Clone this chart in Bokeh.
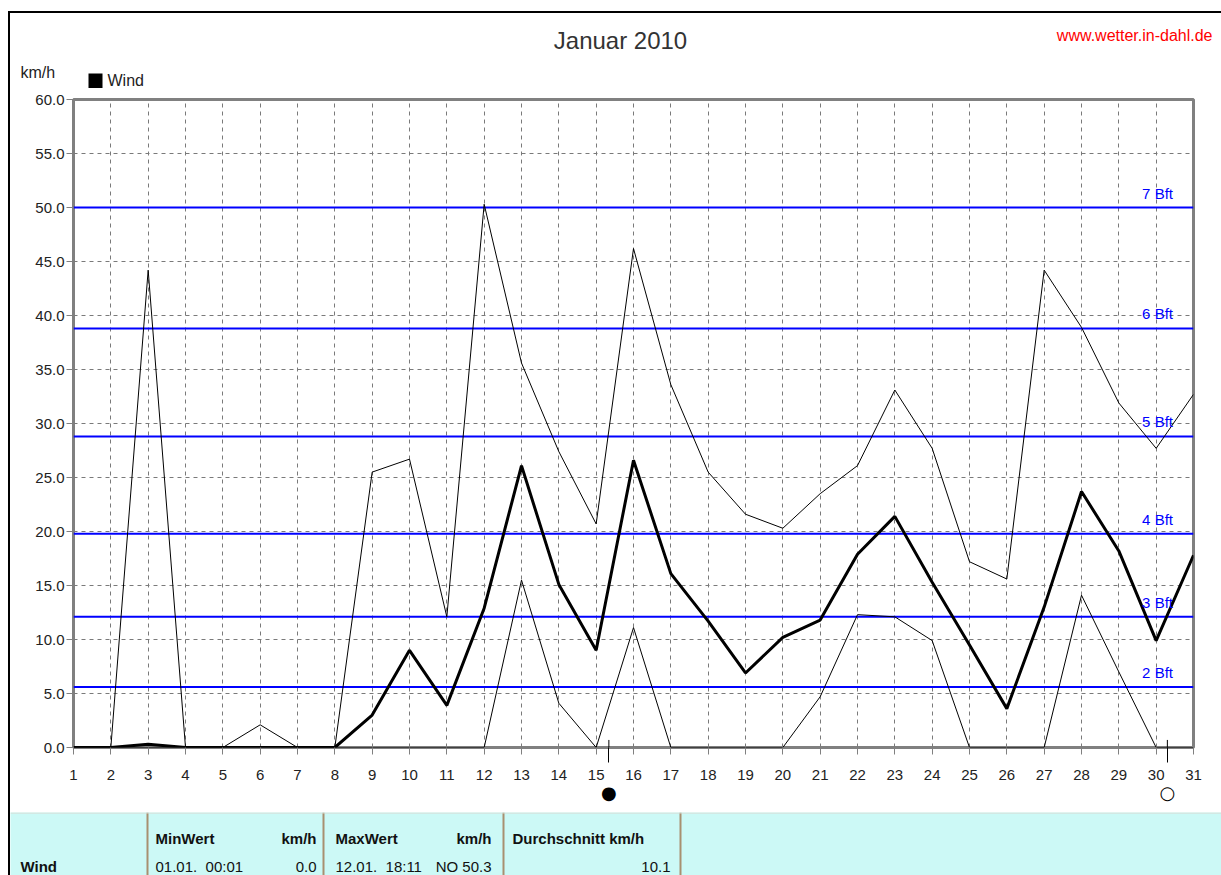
from bokeh.plotting import figure
from bokeh.models import (Range1d, FixedTicker, Span, Label, PrintfTickFormatter,
                          GlobalInlineStyleSheet, LinearAxis)
from bokeh.layouts import column
from bokeh.embed import file_html
from bokeh.resources import INLINE
from bokeh.core.properties import value

# ---------------- data ----------------
days = list(range(1, 32))
wind_max = [0.0, 0.0, 44.2, 0.0, 0.0, 2.1, 0.0, 0.0, 25.5, 26.7, 12.1, 50.3, 35.6, 27.4, 20.7, 46.2,
            33.6, 25.5, 21.6, 20.3, 23.5, 26.1, 33.1, 27.7, 17.2, 15.6, 44.2, 38.9, 31.9, 27.7, 32.7]
wind_avg = [0.0, 0.0, 0.3, 0.0, 0.0, 0.0, 0.0, 0.0, 3.0, 9.0, 3.9, 12.9, 26.1, 15.1, 9.0, 26.6,
            16.1, 11.7, 6.9, 10.2, 11.8, 17.9, 21.4, 15.3, 9.5, 3.6, 13.0, 23.7, 18.2, 9.9, 17.8]
wind_min = [0.0, 0.0, 0.0, 0.0, 0.0, 0.0, 0.0, 0.0, 0.0, 0.0, 0.0, 0.0, 15.5, 4.1, 0.0, 11.1,
            0.0, 0.0, 0.0, 0.0, 4.7, 12.3, 12.1, 9.9, 0.0, 0.0, 0.0, 14.1, 7.0, 0.0, 0.0]
y_ticks = [0, 5, 10, 15, 20, 25, 30, 35, 40, 45, 50, 55, 60]
bft_levels = [5.6, 12.1, 19.8, 28.8, 38.8, 50.0]
bft_labels = ["2 Bft", "3 Bft", "4 Bft", "5 Bft", "6 Bft", "7 Bft"]
moon_days = [15.34, 30.30]
moon_symbols = ["\u25CF", "\u25CB"]
title_text = "Januar 2010"
site_text = "www.wetter.in-dahl.de"
unit_text = "km/h"
legend_text = "Wind"

table_header = ["MinWert", "km/h", "MaxWert", "km/h", "Durchschnitt km/h"]
table_row = ["Wind", "01.01.\u00a0 00:01", "0.0", "12.01.\u00a0 18:11", "NO 50.3", "10.1"]

FONT = "Liberation Sans"
W = 1211

# ---------------- header (page x = 10 + fig x, page y = 13 + fig y) ----------------
hf = figure(width=W, height=75, x_range=Range1d(0, W), y_range=Range1d(75, 0),
            toolbar_location=None, output_backend="svg", min_border=0)
hf.outline_line_color = None
hf.axis.visible = False
hf.grid.visible = False
hf.text(x=[610], y=[27], text=[title_text], text_align="center", text_baseline="middle",
        text_font=value(FONT), text_font_size="24px", text_color="#333333")
hf.text(x=[1202], y=[22], text=[site_text], text_align="right", text_baseline="middle",
        text_font=value(FONT), text_font_size="16px", text_color="#FF0000")
hf.text(x=[10], y=[59], text=[unit_text], text_align="left", text_baseline="middle",
        text_font=value(FONT), text_font_size="16px", text_color="#222222")
hf.rect(x=[85], y=[67.5], width=14, height=15, fill_color="black", line_color=None)
hf.text(x=[97], y=[67], text=[legend_text], text_align="left", text_baseline="middle",
        text_font=value(FONT), text_font_size="16px", text_color="#222222")

# ---------------- main chart ----------------
p = figure(width=W, height=724, x_range=Range1d(1, 31), y_range=Range1d(0, 60),
           toolbar_location=None, output_backend="svg",
           min_border_left=63, min_border_right=28, min_border_top=11, min_border_bottom=65)
p.background_fill_color = "white"
p.border_fill_color = "white"
p.outline_line_color = "#808080"
p.outline_line_width = 3

p.xaxis.ticker = FixedTicker(ticks=days, minor_ticks=moon_days)
p.yaxis.ticker = FixedTicker(ticks=y_ticks)
p.yaxis.formatter = PrintfTickFormatter(format="%.1f")
for ax in (p.xaxis[0], p.yaxis[0]):
    ax.axis_line_color = None
    ax.major_tick_line_color = "#808080"
    ax.major_tick_in = 0
    ax.major_tick_out = 7
    ax.major_label_text_font = FONT
    ax.major_label_text_font_size = "15px"
    ax.major_label_text_color = "#222222"
p.yaxis.minor_tick_line_color = None
p.yaxis.major_label_standoff = 2
p.xaxis.minor_tick_line_color = "black"
p.xaxis.minor_tick_line_width = 1
p.xaxis.minor_tick_in = 0
p.xaxis.minor_tick_out = 15
p.xaxis.major_label_standoff = 7

# moon phase symbols as a second bottom axis
moon_axis = LinearAxis(ticker=FixedTicker(ticks=moon_days),
                       major_label_overrides={d: s for d, s in zip(moon_days, moon_symbols)})
moon_axis.axis_line_color = None
moon_axis.major_tick_line_color = None
moon_axis.minor_tick_line_color = None
moon_axis.major_label_standoff = -7
moon_axis.major_label_text_font = "DejaVu Sans"
moon_axis.major_label_text_font_size = "18px"
moon_axis.major_label_text_color = "black"
p.add_layout(moon_axis, "below")

for g in (p.xgrid[0], p.ygrid[0]):
    g.grid_line_color = "#7a7a7a"
    g.grid_line_dash = "4 4"
    g.grid_line_width = 1

for lvl, lab in zip(bft_levels, bft_labels):
    p.add_layout(Span(location=lvl, dimension="width", line_color="#0000FF", line_width=2, level="underlay"))
    p.add_layout(Label(x=30.45, y=lvl, text=lab, text_align="right", text_baseline="bottom",
                       y_offset=6, text_color="#0000FF", text_font=FONT, text_font_size="15px"))

p.segment(x0=moon_days, y0=[0, 0], x1=moon_days, y1=[0.7, 0.7], line_color="black", line_width=1)
p.line(days, wind_max, line_color="black", line_width=1)
p.line(days, wind_min, line_color="black", line_width=1)
p.line(days, wind_avg, line_color="black", line_width=3)

# ---------------- table (page y = 812 + fig y) ----------------
tf = figure(width=W, height=63, x_range=Range1d(0, W), y_range=Range1d(63, 0),
            toolbar_location=None, output_backend="svg", min_border=0)
tf.background_fill_color = "#CCF9F6"
tf.border_fill_color = "#CCF9F6"
tf.outline_line_color = None
tf.axis.visible = False
tf.grid.visible = False
col_x = [137, 313, 493, 670]
tf.segment(x0=col_x, y0=[0] * 4, x1=col_x, y1=[63] * 4, line_color="#A89070", line_width=2)
tf.segment(x0=[0], y0=[0.5], x1=[W], y1=[0.5], line_color="#D8D8D0", line_width=1)

hx = [145, 306, 325, 481, 502]
halign = ["left", "right", "left", "right", "left"]
for x, t, a in zip(hx, table_header, halign):
    tf.text(x=[x], y=[26], text=[t], text_align=a, text_baseline="middle",
            text_font=value(FONT), text_font_size="15px", text_font_style="bold", text_color="#111111")
rx = [10, 145, 306, 325, 481, 660]
ralign = ["left", "left", "right", "left", "right", "right"]
for i, (x, t, a) in enumerate(zip(rx, table_row, ralign)):
    tf.text(x=[x], y=[54], text=[t], text_align=a, text_baseline="middle",
            text_font=value(FONT), text_font_size="15px",
            text_font_style="bold" if i == 0 else "normal", text_color="#111111")

layout = column(column(hf), column(p), column(tf),
                styles={"border-left": "2px solid black", "border-top": "2px solid black",
                        "margin-left": "8px", "margin-top": "11px"},
                stylesheets=[GlobalInlineStyleSheet(css="html, body { overflow: hidden; margin: 0; padding: 0; }")])

open("out.html", "w").write(file_html(layout, INLINE))
